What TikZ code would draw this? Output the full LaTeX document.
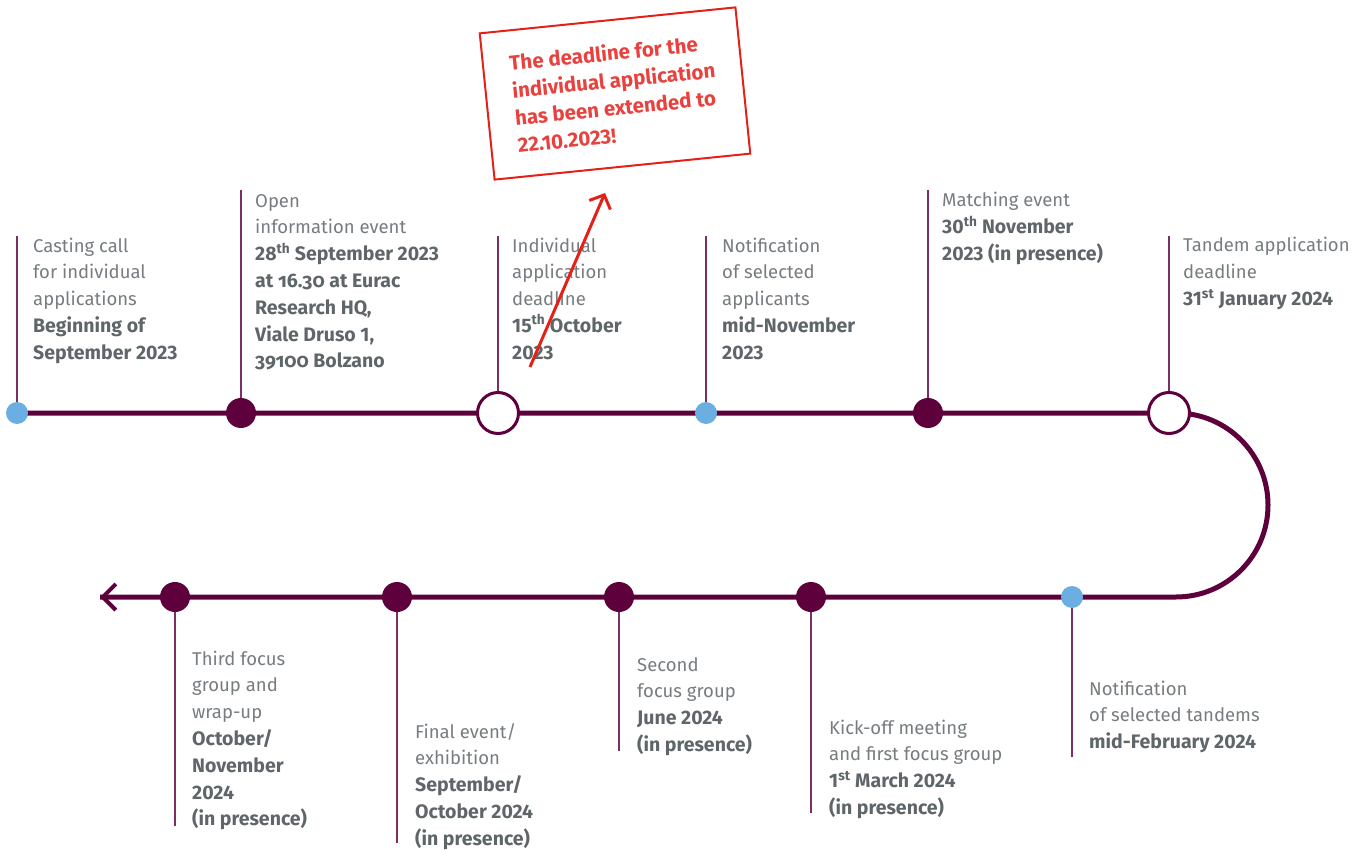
\documentclass[tikz,border=0pt]{standalone}
\usepackage{fontspec}
\setmainfont{Fira Sans}
\usetikzlibrary{arrows.meta,backgrounds}
\definecolor{plum}{HTML}{5E003C}
\definecolor{tickc}{HTML}{7D2F63}
\definecolor{dotblue}{HTML}{6AAEE2}
\definecolor{txtgray}{HTML}{767C7F}
\definecolor{boldgray}{HTML}{5F6669}
\definecolor{alertred}{HTML}{E32119}
\definecolor{alerttxt}{HTML}{E8413E}
\newcommand\bt[1]{{\fontsize{19.5}{26.8}\selectfont\textbf{\color{boldgray}#1}}}
\newcommand\onum[1]{{\addfontfeature{Numbers=OldStyle}#1}}
\begin{document}
\begin{tikzpicture}[x=1pt,y=-1pt,
  mainline/.style={draw=plum,line width=5pt},
  tickline/.style={draw=tickc,line width=2.5pt},
  bluedot/.style={circle,fill=dotblue,inner sep=0pt,minimum size=22pt},
  darkdot/.style={circle,fill=plum,inner sep=0pt,minimum size=30pt},
  opendot/.style={circle,draw=plum,fill=white,line width=3pt,inner sep=0pt,minimum size=41pt},
  lbl/.style={anchor=base west,align=left,inner sep=0pt,text=txtgray,
    font=\fontsize{18.5}{26.8}\selectfont},
  alertbox/.style={draw=alertred,line width=2pt,rotate=5.8,minimum width=257pt,
    minimum height=147pt,inner sep=0pt,align=left,text=alerttxt,
    font=\fontsize{20.5}{27.5}\selectfont\bfseries},
  alertarrow/.style={draw=alertred,line width=3pt,-{Straight Barb[length=11pt,width=23pt]}}
]
\useasboundingbox (0,0) rectangle (1365,850);
% dots
\node[bluedot] (d1) at (17,413) {};
\node[darkdot] (d2) at (241,413) {};
\node[opendot] (d3) at (498,413) {};
\node[bluedot] (d4) at (706,413) {};
\node[darkdot] (d5) at (928,413) {};
\node[opendot] (d6) at (1169,413) {};
\node[bluedot] (d7) at (1072,597) {};
\node[darkdot] (d8) at (811,597) {};
\node[darkdot] (d9) at (619,597) {};
\node[darkdot] (d10) at (397,597) {};
\node[darkdot] (d11) at (175,597) {};
% tick ends
\coordinate (k1) at (17,236);
\coordinate (k2) at (241,190);
\coordinate (k3) at (498,236);
\coordinate (k4) at (706,236);
\coordinate (k5) at (928,190);
\coordinate (k6) at (1169,236);
\coordinate (k7) at (1072,757);
\coordinate (k8) at (811,813);
\coordinate (k9) at (619,751);
\coordinate (k10) at (397,843);
\coordinate (k11) at (175,826);
\coordinate (arcA) at (1176,413);
\coordinate (tip) at (100,597);
\begin{pgfonlayer}{background}
  \draw[mainline] (d1.center) -- (arcA) arc[start angle=-90,end angle=90,radius=92] -- (tip);
  \foreach \i in {1,...,11} {\draw[tickline] (k\i) -- (d\i.center);}
\end{pgfonlayer}
\draw[draw=plum,line width=4pt,-{Straight Barb[length=13pt,width=26pt]}] (d11.center) -- (tip);
% labels (anchored at the baseline of their last line)
\node[lbl] (t1) at (33,359.2) {Casting call\\for individual\\applications\\\bt{Beginning of}\\\bt{September 2023}};
\node[lbl] (t2) at (255,367.8) {Open\\information event\\\bt{28\textsuperscript{th} September 2023}\\\bt{at \onum{16.30} at Eurac}\\\bt{Research HQ,}\\\bt{Viale Druso 1,}\\\bt{\onum{39100} Bolzano}};
\node[lbl] (t3) at (512,359.2) {Individual\\application\\deadline\\\bt{15\textsuperscript{th} October}\\\bt{2023}};
\node[lbl] (t4) at (722,359.2) {Notification\\of selected\\applicants\\\bt{mid-November}\\\bt{2023}};
\node[lbl] (t5) at (942,260.6) {Matching event\\\bt{30\textsuperscript{th} November}\\\bt{2023 (in presence)}};
\node[lbl] (t6) at (1183,305.6) {Tandem application\\deadline\\\bt{31\textsuperscript{st} January 2024}};
\node[lbl] (t7) at (1089,748.6) {Notification\\of selected tandems\\\bt{mid-February 2024}};
\node[lbl] (t8) at (829,814.4) {Kick-off meeting\\and first focus group\\\bt{1\textsuperscript{st} March 2024}\\\bt{(in presence)}};
\node[lbl] (t9) at (637,751.4) {Second\\focus group\\\bt{June 2024}\\\bt{(in presence)}};
\node[lbl] (t10) at (415,845.2) {Final event/\\exhibition\\\bt{September/}\\\bt{October 2024}\\\bt{(in presence)}};
\node[lbl] (t11) at (192,825.8) {Third focus\\group and\\wrap-up\\\bt{October/}\\\bt{November}\\\bt{2024}\\\bt{(in presence)}};
% alert
\node[alertbox] (box) at (615,93.5) {The deadline for the\\individual application\\has been extended to\\22.10.2023!};
\coordinate (ra) at (530,367);
\coordinate (rb) at (605,193);
\draw[alertarrow] (ra) -- (rb);
\end{tikzpicture}
\end{document}
